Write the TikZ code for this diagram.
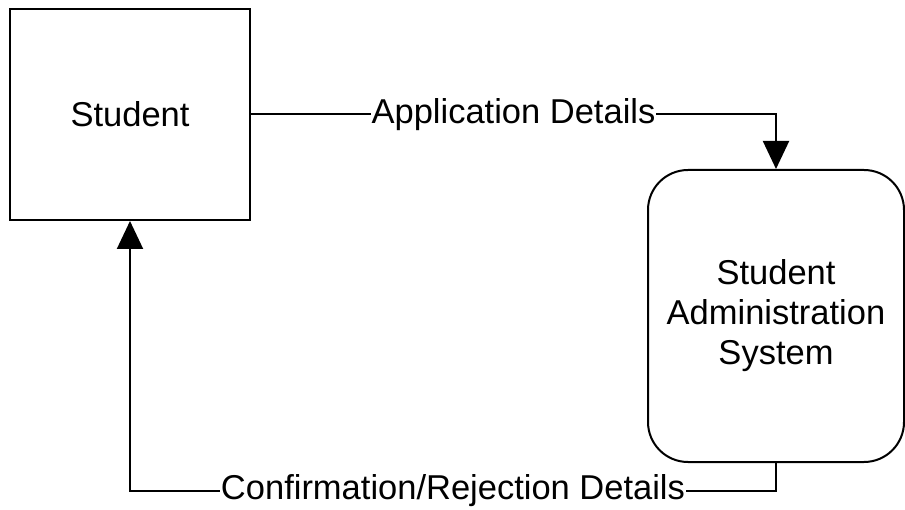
\documentclass[tikz,border=0pt]{standalone}
\usepackage{fontspec}
\setmainfont{Liberation Sans}
\usetikzlibrary{arrows.meta,positioning}
\tikzset{entity/.style={
    % The shape:
    rectangle,
    % The size:
    minimum width=240pt,
    minimum height=211pt,
    % The border:
    line width=2pt,
    draw=black,
    },
    process/.style={
    rectangle,rounded corners=40pt,
    minimum width=256pt,
    minimum height=292pt,
    line width=2pt,
    draw=black,
    align=center,
    },
    flow/.style={
    line width=2pt,
    -{Triangle[length=28pt,width=26pt]},
    },
    flowlabel/.style={
    fill=white,
    inner sep=1pt,
    },
}

\begin{document}
\begin{tikzpicture}[x=1pt,y=-1pt,font=\fontsize{34.5}{40}\selectfont]
    \useasboundingbox (0,0) rectangle (905,510);
    \node (student) [entity]  at (130,114.5) {Student};
    \node (sas)     [process] at (776,316)   {Student\\Administration\\System};

    % data flows
    \draw[flow] (student.east) -| node[flowlabel,pos=0.25] {Application Details} (sas.north);
    \coordinate (turn) at ([yshift=-28pt]sas.south);
    \draw[flow] (sas.south) -- (turn) -| node[flowlabel,pos=0.25] {Confirmation/Rejection Details} (student.south);
\end{tikzpicture}
\end{document}
